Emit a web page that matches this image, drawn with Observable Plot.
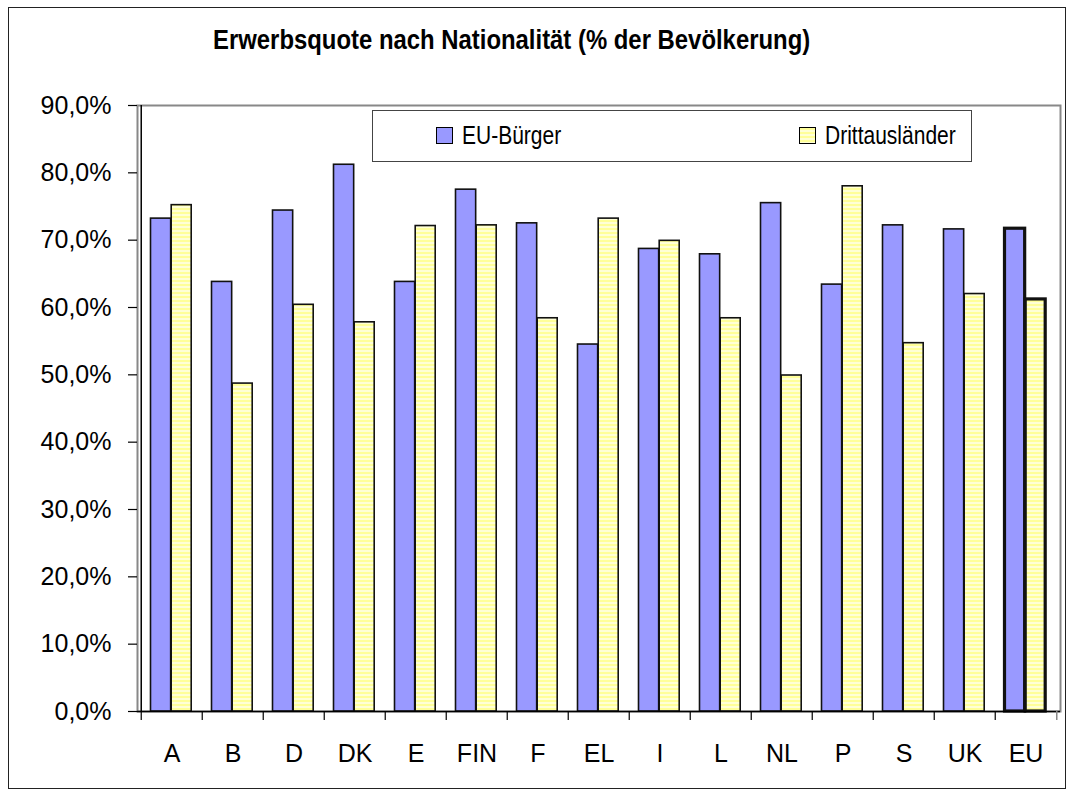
<!DOCTYPE html>
<html>
<head>
<meta charset="utf-8">
<script src="https://cdn.jsdelivr.net/npm/d3@7"></script>
<script src="https://cdn.jsdelivr.net/npm/@observablehq/plot@0.6"></script>
<style>
  html, body { margin: 0; padding: 0; background: #fff; }
  #wrap { position: relative; width: 1074px; height: 796px; overflow: hidden; font-family: "Liberation Sans", Arial, sans-serif; }
  #frame { position: absolute; left: 8px; top: 7px; width: 1058px; height: 782px; box-sizing: border-box; border: 1.5px solid #222; pointer-events: none; }
  #title { position: absolute; left: 213px; top: 26px; font-family: "Liberation Sans", Arial, sans-serif; font-weight: bold; font-size: 28px; line-height: 28px; white-space: nowrap; color: #000; transform: scaleX(0.853); transform-origin: 0 0; }
  #chart { position: absolute; left: 0; top: 0; }
  #legend { position: absolute; left: 372px; top: 110px; width: 600px; height: 52px; box-sizing: border-box; border: 1.5px solid #444; background: #fff; }
  .item { position: absolute; top: 0; height: 49px; display: flex; align-items: center; font-family: "Liberation Sans", Arial, sans-serif; font-size: 25px; color: #000; white-space: nowrap; }
  .item span { display: inline-block; transform: scaleX(0.84); transform-origin: 0 50%; }
  .sw { width: 15px; height: 15px; border: 1.2px solid #000; margin-right: 9px; box-sizing: content-box; }
</style>
</head>
<body>
<svg width="0" height="0" style="position:absolute">
  <defs>
    <pattern id="stripes" width="4" height="4" patternUnits="userSpaceOnUse">
      <rect width="4" height="4" fill="#FFFF99"></rect>
      <rect y="2" width="4" height="2" fill="#FFFFD6"></rect>
    </pattern>
  </defs>
</svg>
<div id="wrap">
  <div id="chart"></div>
  <div id="title"></div>
  <div id="legend"></div>
  <div id="frame"></div>
</div>
<script>
// ---- data ----
const countries = ["A", "B", "D", "DK", "E", "FIN", "F", "EL", "I", "L", "NL", "P", "S", "UK", "EU"];
const euBuerger = [73.2, 63.8, 74.4, 81.2, 63.8, 77.5, 72.5, 54.5, 68.7, 67.9, 75.5, 63.4, 72.2, 71.6, 71.7];
const drittauslaender = [75.2, 48.7, 60.4, 57.8, 72.1, 72.2, 58.4, 73.2, 69.9, 58.4, 49.9, 78.0, 54.7, 62.0, 61.2];
const seriesNames = ["EU-Bürger", "Drittausländer"];
const yTicks = [0, 10, 20, 30, 40, 50, 60, 70, 80, 90];
const title = "Erwerbsquote nach Nationalität (% der Bevölkerung)";

// ---- layout ----
const W = 1074, H = 796;
const mL = 137, mR = 14, mT = 105, mB = 85;
const bw = (W - mL - mR) / countries.length;

const euRows = countries.map((c, i) => ({land: c, value: euBuerger[i]}));
const drRows = countries.map((c, i) => ({land: c, value: drittauslaender[i]}));
const fmt = d => d.toFixed(1).replace(".", ",") + "%";
const sw = d => d.land === "EU" ? 3.2 : 1.6;

document.getElementById("title").textContent = title;

const plot = Plot.plot({
  width: W, height: H,
  marginLeft: mL, marginRight: mR, marginTop: mT, marginBottom: mB,
  style: {fontFamily: "'Liberation Sans', Arial, sans-serif", fontSize: "25px", color: "#000", background: "transparent", overflow: "visible"},
  x: {type: "band", domain: countries, padding: 0, axis: null},
  y: {domain: [0, 90], axis: null},
  marks: [
    Plot.frame({stroke: "#888", strokeWidth: 2}),
    Plot.barY(euRows, {x: "land", y: "value", fill: "#9999FF", stroke: "#111", strokeWidth: sw, insetLeft: 9.5, insetRight: bw - 30.2}),
    Plot.barY(drRows, {x: "land", y: "value", fill: "url(#stripes)", stroke: "#111", strokeWidth: sw, insetLeft: 30.2, insetRight: 10.8}),
    Plot.ruleY([0], {stroke: "#000", strokeWidth: 1.5}),
    Plot.ruleX([countries[0]], {dx: -bw / 2, stroke: "#000", strokeWidth: 1.5}),
    Plot.axisY({ticks: yTicks, tickSize: 9, tickPadding: 17, tickFormat: fmt, label: null, stroke: "#000", strokeWidth: 1.2}),
    Plot.axisX({tickSize: 9, text: null, dx: -bw / 2, label: null, stroke: "#000", strokeWidth: 1.2}),
    Plot.axisX({ticks: [countries[countries.length - 1]], tickSize: 9, text: null, dx: bw / 2, label: null, stroke: "#888", strokeWidth: 1.5}),
    Plot.axisX({tickSize: 0, tickPadding: 33, label: null})
  ]
});
document.getElementById("chart").appendChild(plot);

// ---- legend ----
const legend = document.getElementById("legend");
const legendX = [63, 426];
seriesNames.forEach((name, i) => {
  const item = document.createElement("div");
  item.className = "item";
  item.style.left = legendX[i] + "px";
  const s = document.createElement("div");
  s.className = "sw";
  s.style.background = i === 0 ? "#9999FF"
    : "repeating-linear-gradient(to bottom, #FFFF99 0px, #FFFF99 2px, #FFFFD6 2px, #FFFFD6 4px)";
  const t = document.createElement("span");
  t.textContent = name;
  item.appendChild(s); item.appendChild(t);
  legend.appendChild(item);
});
</script>
</body>
</html>
